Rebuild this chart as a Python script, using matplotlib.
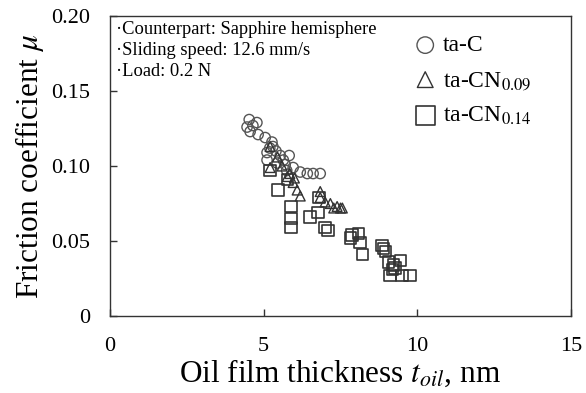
import matplotlib
matplotlib.use("Agg")
import matplotlib.pyplot as plt

plt.rcParams['font.family'] = ['Liberation Serif', 'DejaVu Serif']
plt.rcParams['mathtext.fontset'] = 'stix'

tac_x = [4.53, 4.78, 4.46, 4.56, 4.65, 4.82, 5.05, 5.27, 5.30, 5.11, 5.11, 5.44,
         5.54, 5.83, 5.64, 5.70, 5.96, 6.19, 6.42, 6.61, 6.84, 5.40, 5.20, 5.75]
tac_y = [0.131, 0.129, 0.126, 0.123, 0.127, 0.121, 0.119, 0.116, 0.113, 0.109, 0.104, 0.102,
         0.107, 0.107, 0.104, 0.101, 0.099, 0.096, 0.095, 0.095, 0.095, 0.110, 0.112, 0.097]

cn09_x = [5.21, 5.21, 5.45, 5.60, 5.77, 5.85, 5.96, 6.09, 6.19, 6.84, 6.84, 7.00,
          7.17, 7.28, 7.39, 7.50, 7.56, 6.00]
cn09_y = [0.113, 0.099, 0.106, 0.100, 0.093, 0.095, 0.089, 0.084, 0.080, 0.083, 0.079, 0.076,
          0.075, 0.072, 0.073, 0.072, 0.072, 0.092]

cn14_x = [5.21, 5.47, 5.77, 5.89, 5.89, 5.89, 6.51, 6.77, 6.81, 7.00, 7.10, 7.82,
          7.88, 8.08, 8.14, 8.21, 8.86, 8.90, 8.96, 9.06, 9.22, 9.28, 9.45, 9.12,
          9.51, 9.77, 9.19]
cn14_y = [0.097, 0.084, 0.091, 0.073, 0.065, 0.059, 0.066, 0.069, 0.079, 0.059, 0.057, 0.052,
          0.054, 0.055, 0.049, 0.041, 0.047, 0.045, 0.043, 0.036, 0.034, 0.032, 0.037, 0.027,
          0.027, 0.027, 0.031]

labels = ['ta-C', 'ta-CN$_{0.09}$', 'ta-CN$_{0.14}$']
xticks = [0, 5, 10, 15]
yticks = [0, 0.05, 0.10, 0.15, 0.20]
ytick_labels = ['0', '0.05', '0.10', '0.15', '0.20']
notes = ['·Counterpart: Sapphire hemisphere', '·Sliding speed: 12.6 mm/s', '·Load: 0.2 N']

fig = plt.figure(figsize=(5.86, 3.93), dpi=100)
ax = fig.add_axes([0.1877, 0.196, 0.7867, 0.763])

ec = '#333333'
ax.scatter(tac_x, tac_y, s=55, marker='o', facecolors='none', edgecolors='#555555', linewidths=1.0, label=labels[0])
ax.scatter(cn09_x, cn09_y, s=50, marker='^', facecolors='none', edgecolors=ec, linewidths=1.0, label=labels[1])
ax.scatter(cn14_x, cn14_y, s=70, marker='s', facecolors='none', edgecolors=ec, linewidths=1.2, label=labels[2])

ax.set_xlim(0, 15)
ax.set_ylim(0, 0.20)
ax.set_xticks(xticks)
ax.set_xticklabels([str(v) for v in xticks])
ax.set_yticks(yticks)
ax.set_yticklabels(ytick_labels)
ax.tick_params(direction='in', length=5, width=1, labelsize=16, color=ec)
ax.tick_params(axis='x', pad=15)
ax.tick_params(axis='y', pad=14)
for sp in ax.spines.values():
    sp.set_color(ec)
    sp.set_linewidth(1.0)

ax.set_xlabel('Oil film thickness $t_{oil}$, nm', fontsize=22.5, labelpad=1)
ax.set_ylabel('Friction coefficient $\\mu$', fontsize=22.5, labelpad=4)

for i, t in enumerate(notes):
    ax.text(0.012, 0.955 - i * 0.07, t, transform=ax.transAxes, fontsize=13.3, va='center', ha='left')

leg = ax.legend(loc='upper left', bbox_to_anchor=(0.63, 0.985), frameon=False, fontsize=17,
                markerscale=1.6, handletextpad=0.3, labelspacing=0.55, handlelength=0.9,
                borderaxespad=0.2)

fig.savefig('out.png', dpi=100)
